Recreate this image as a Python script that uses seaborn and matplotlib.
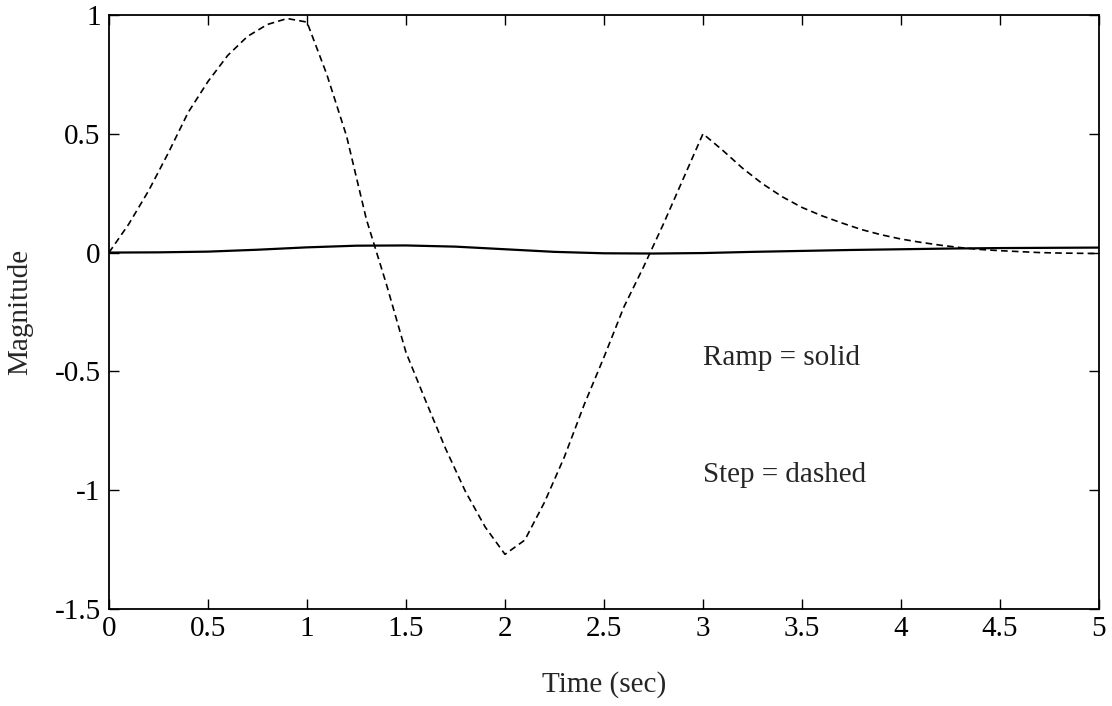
import matplotlib
matplotlib.use("Agg")
import matplotlib.pyplot as plt
import seaborn as sns
import pandas as pd

# Step response (dashed)
step_t = [0.0, 0.1, 0.2, 0.3, 0.4, 0.5, 0.6, 0.7, 0.8, 0.9, 1.0,
          1.1, 1.2, 1.3, 1.4, 1.5, 1.6, 1.7, 1.8, 1.9, 2.0,
          2.1, 2.2, 2.3, 2.4, 2.5, 2.6, 2.7, 2.8, 2.9, 3.0,
          3.1, 3.2, 3.3, 3.4, 3.5, 3.6, 3.7, 3.8, 3.9, 4.0,
          4.1, 4.2, 4.3, 4.4, 4.5, 4.6, 4.7, 4.8, 4.9, 5.0]
step_y = [0.0, 0.12, 0.26, 0.42, 0.59, 0.72, 0.83, 0.91, 0.96, 0.985, 0.97,
          0.75, 0.49, 0.14, -0.13, -0.42, -0.625, -0.825, -1.005, -1.155, -1.27,
          -1.21, -1.05, -0.86, -0.64, -0.44, -0.23, -0.06, 0.12, 0.31, 0.50,
          0.43, 0.355, 0.29, 0.235, 0.19, 0.155, 0.125, 0.097, 0.075, 0.057,
          0.043, 0.031, 0.021, 0.013, 0.008, 0.004, 0.0, -0.002, -0.003, -0.004]

# Ramp response (solid)
ramp_t = [0.0, 0.25, 0.5, 0.75, 1.0, 1.25, 1.5, 1.75, 2.0, 2.25, 2.5,
          2.75, 3.0, 3.25, 3.5, 3.75, 4.0, 4.25, 4.5, 4.75, 5.0]
ramp_y = [0.0, 0.001, 0.004, 0.012, 0.022, 0.029, 0.030, 0.025, 0.014, 0.003, -0.003,
          -0.004, -0.002, 0.003, 0.007, 0.011, 0.014, 0.017, 0.019, 0.020, 0.021]

x_ticks = [0, 0.5, 1, 1.5, 2, 2.5, 3, 3.5, 4, 4.5, 5]
x_labels = ["0", "0.5", "1", "1.5", "2", "2.5", "3", "3.5", "4", "4.5", "5"]
y_ticks = [-1.5, -1, -0.5, 0, 0.5, 1]
y_labels = ["-1.5", "-1", "-0.5", "0", "0.5", "1"]

sns.set_style("ticks")
plt.rcParams["font.family"] = ["Liberation Serif", "DejaVu Serif"]
plt.rcParams["xtick.direction"] = "in"
plt.rcParams["ytick.direction"] = "in"

fig = plt.figure(figsize=(11.12, 7.06), dpi=100)
ax = fig.add_axes([0.098, 0.1374, 0.8903, 0.8414])

step_df = pd.DataFrame({"t": step_t, "y": step_y})
ramp_df = pd.DataFrame({"t": ramp_t, "y": ramp_y})

sns.lineplot(data=ramp_df, x="t", y="y", ax=ax, color="black", linewidth=1.6)
sns.lineplot(data=step_df, x="t", y="y", ax=ax, color="black", linewidth=1.2)
ax.lines[-1].set_linestyle((0, (4, 2.5)))

ax.set_xlim(0, 5)
ax.set_ylim(-1.5, 1)
ax.set_xticks(x_ticks)
ax.set_xticklabels(x_labels)
ax.set_yticks(y_ticks)
ax.set_yticklabels(y_labels)
ax.tick_params(axis="both", which="both", direction="in", length=7, width=1,
               top=True, right=True, labelsize=21, colors="black")
ax.tick_params(axis="x", pad=5)
ax.tick_params(axis="y", pad=6)
for s in ax.spines.values():
    s.set_visible(True)
    s.set_linewidth(1.3)
    s.set_color("black")

ax.set_xlabel("Time (sec)", fontsize=21)
ax.set_ylabel("Magnitude", fontsize=21)
ax.xaxis.set_label_coords(0.5, -0.104)
ax.yaxis.set_label_coords(-0.077, 0.5)

ax.text(3.0, -0.473, "Ramp = solid", fontsize=21, va="baseline", ha="left")
ax.text(3.0, -0.965, "Step = dashed", fontsize=21, va="baseline", ha="left")

fig.savefig("out.png", dpi=100, facecolor="white")
